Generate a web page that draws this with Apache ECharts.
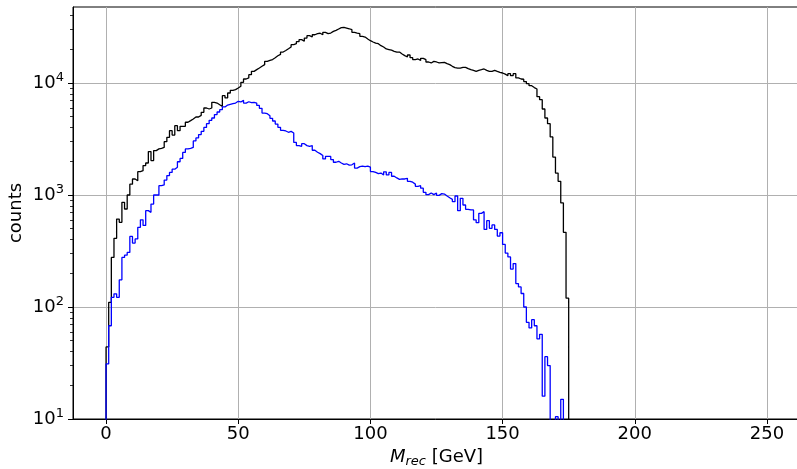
<!DOCTYPE html>
<html>
<head>
<meta charset="utf-8">
<script src="https://cdn.jsdelivr.net/npm/echarts@6/dist/echarts.min.js"></script>
<style>
html,body{margin:0;padding:0;background:#fff;}
#c{width:797px;height:469px;}
</style>
</head>
<body>
<div id="c"></div>
<script>
// Bin width 1 GeV, first bin edge 0
const binStart = 0;
const binWidth = 1;
// counts per bin (black histogram), bins 0..174
const blackCounts = [
 44,110,277,410,610,570,860,750,1000,1250,
 1390,1340,1615,1650,1830,1930,2440,2030,2490,2580,
 2610,2660,2990,3270,3750,3430,4160,3750,4100,4100,
 4460,4610,4770,4970,4970,5140,5470,5980,5860,5980,
 6720,6620,6400,6190,7700,7350,8140,8600,8720,9020,
 9340,10140,10860,11090,11870,12710,13160,13600,14090,14580,
 15600,15900,16200,16800,17500,18000,18900,19500,20200,21000,
 21980,22440,23390,24380,23560,25180,26450,25720,26960,27570,
 27810,26960,28320,27570,27930,28920,29540,30360,31200,31400,
 30970,30500,29930,28320,27930,27570,26100,25720,24710,23870,
 23230,22680,22440,21540,20960,20140,19900,19630,19190,18900,
 18900,18150,17540,17060,17780,16830,16150,16380,15920,16600,
 16150,15400,15100,15610,15400,15100,15200,15300,14890,14590,
 14090,13710,13600,13600,13800,13800,13430,13150,12970,12700,
 12970,13150,13340,12970,12700,12700,12970,12700,12440,12280,
 12000,11620,12110,11620,12110,11090,10860,10800,10300,9860,
 9460,9100,8840,7550,7100,5860,4870,4330,3300,2180,
 1570,1325,849,464,120
];
// counts per bin (blue histogram), bins 0..172
const blueCounts = [
 31,68,122,131,122,175,277,290,307,427,
 372,405,514,600,535,725,700,830,1000,1000,
 1210,1230,1360,1490,1590,1700,1770,1980,2120,2400,
 2580,2610,2660,3040,3230,3460,3700,4010,4330,4640,
 4870,5220,5510,5780,6110,6360,6450,6540,6620,6860,
 6770,7000,6620,6800,6680,6720,6620,6310,5940,5390,
 5320,5110,4840,4580,4300,4020,3780,3730,3630,3700,
 3580,2950,2760,2720,2870,2760,2720,2760,2510,2410,
 2340,2250,2100,2210,2210,2070,1960,2000,1930,1880,
 1900,1850,1860,1930,1740,1790,1810,1790,1810,1770,
 1620,1590,1550,1570,1510,1610,1510,1590,1470,1420,
 1380,1390,1390,1410,1325,1300,1250,1195,1210,1150,
 1057,1007,1042,1007,1042,993,1028,1020,980,946,
 914,872,980,725,934,814,745,735,735,600,
 566,686,710,493,590,504,540,493,430,460,
 362,303,280,218,244,162,151,132,100,73,
 65,77,68,52,57,16,36,30,0,0,
 10.5,0,15
];
const xTicks = [0, 50, 100, 150, 200, 250];
const yMajorTicks = [10, 100, 1000, 10000];
const yMinorTicks = [20,30,40,50,60,70,80,90,200,300,400,500,600,700,800,900,
  2000,3000,4000,5000,6000,7000,8000,9000,20000,30000,40000];

const FLOOR = 1; // empty bins drawn below the log axis bottom
function histPoints(counts) {
  const pts = [[binStart, FLOOR]];
  counts.forEach((c, i) => pts.push([binStart + i * binWidth, c > 0 ? c : FLOOR]));
  const end = binStart + counts.length * binWidth;
  const last = counts[counts.length - 1];
  pts.push([end, last > 0 ? last : FLOOR]);
  pts.push([end, FLOOR]);
  return pts;
}

const FONT = 'DejaVu Sans';
const chart = echarts.init(document.getElementById('c'), null, {renderer: 'canvas'});
chart.setOption({
  animation: false,
  backgroundColor: '#fff',
  textStyle: {fontFamily: FONT},
  grid: {left: 73, right: -3, top: 7, bottom: 50, show: true, borderColor: '#000', borderWidth: 1,
         backgroundColor: 'transparent', containLabel: false, outerBoundsMode: 'none'},
  xAxis: {
    type: 'value', min: -12.5, max: 262.5,
    name: '{i|M}{s|rec} [GeV]', nameLocation: 'middle', nameGap: 24,
    nameTextStyle: {fontFamily: FONT, fontSize: 18, color: '#000',
      rich: {i: {fontFamily: FONT, fontSize: 18, fontStyle: 'italic', color: '#000'},
             s: {fontFamily: FONT, fontSize: 13, fontStyle: 'italic', color: '#000', padding: [10, 0, 0, 0]}}},
    axisLine: {show: true, onZero: false, lineStyle: {color: '#000', width: 1}},
    axisTick: {show: true, inside: false, length: 5, customValues: xTicks, lineStyle: {color: '#000', width: 1}},
    axisLabel: {show: true, customValues: xTicks, fontFamily: FONT, fontSize: 18, color: '#000', margin: 6},
    splitLine: {show: true, lineStyle: {color: '#b0b0b0', width: 1}}
  },
  yAxis: [{
    type: 'log', logBase: 10, min: 10, max: 47700, position: 'left',
    name: 'counts', nameLocation: 'middle', nameGap: 48, nameMoveOverlap: false,
    nameTextStyle: {fontFamily: FONT, fontSize: 18, color: '#000'},
    axisLine: {show: true, onZero: false, lineStyle: {color: '#000', width: 1}},
    axisTick: {show: true, inside: false, length: 5, customValues: yMajorTicks, lineStyle: {color: '#000', width: 1}},
    axisLabel: {show: true, customValues: yMajorTicks, margin: 9, color: '#000',
      formatter: v => '{b|10}{p|' + Math.round(Math.log10(v)) + '}',
      rich: {b: {fontFamily: FONT, fontSize: 18, color: '#000'},
             p: {fontFamily: FONT, fontSize: 13, color: '#000', padding: [0, 0, 10, 0]}}},
    splitLine: {show: true, lineStyle: {color: '#b0b0b0', width: 1}}
  }, {
    type: 'log', logBase: 10, min: 10, max: 47700, position: 'left', offset: 0,
    axisLine: {show: false, onZero: false},
    axisTick: {show: true, inside: false, length: 3, customValues: yMinorTicks, lineStyle: {color: '#000', width: 0.8}},
    axisLabel: {show: false},
    splitLine: {show: false}
  }],
  series: [{
    type: 'line', step: 'end', symbol: 'none', yAxisIndex: 0,
    data: histPoints(blackCounts),
    lineStyle: {color: '#000000', width: 1.3}, clip: true, z: 3
  }, {
    type: 'line', step: 'end', symbol: 'none', yAxisIndex: 0,
    data: histPoints(blueCounts),
    lineStyle: {color: '#0000ff', width: 1.3}, clip: true, z: 4
  }]
});
</script>
</body>
</html>
